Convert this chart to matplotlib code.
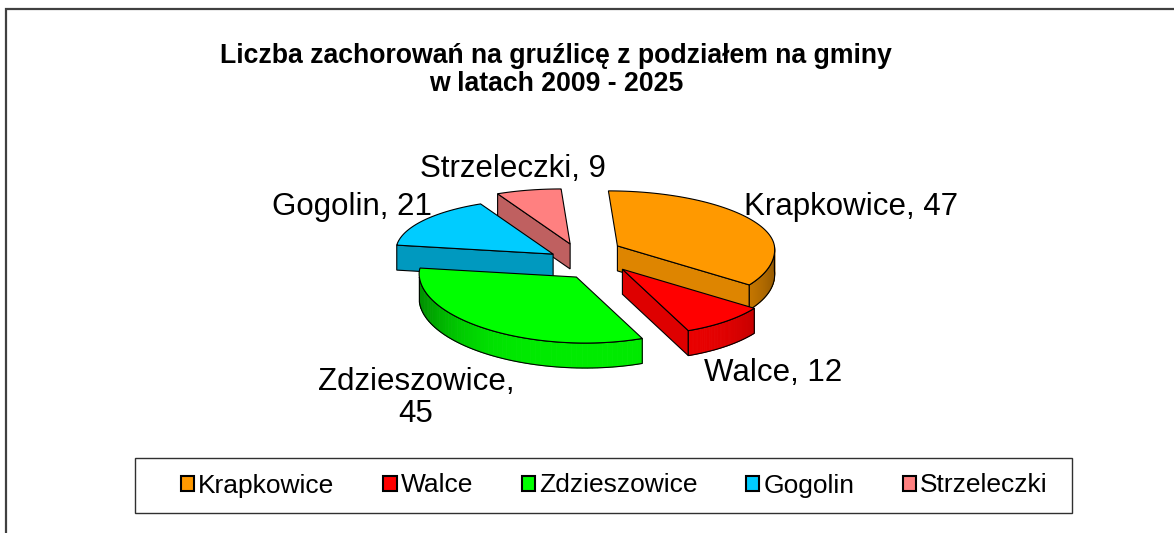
import numpy as np
import matplotlib.pyplot as plt
from matplotlib.patches import Polygon, Rectangle, Patch
from matplotlib.colors import to_rgb

plt.rcParams['font.family'] = ['Liberation Sans', 'DejaVu Sans']

# data
names = ['Krapkowice', 'Walce', 'Zdzieszowice', 'Gogolin', 'Strzeleczki']
cases = [47, 12, 45, 21, 9]
labels = ['Krapkowice, 47', 'Walce, 12', 'Zdzieszowice,\n45', 'Gogolin, 21', 'Strzeleczki, 9']
colors = ['#FF9900', '#FF0000', '#00FF00', '#00CCFF', '#FF8080']
title = 'Liczba zachorowań na gruźlicę z podziałem na gminy\nw latach 2009 - 2025'

# layout (pixel space of the 1174x533 picture)
W, H = 1174, 533
cx, cy = 590, 259.5
ex, kx = 37, 12.4      # explosion, horizontal
ey, ky = 17.3, -6.5    # explosion, vertical
rx, ry_back, ry_front = 157, 55, 66
lean = 9
depth = 25
label_pos = [(851, 215), (773, 381), (416, 398), (352, 215), (513, 177)]


def shade(c, f):
    return tuple(min(1, ch * f) for ch in to_rgb(c))


fig = plt.figure(figsize=(W / 100, H / 100), dpi=100)
ax = fig.add_axes([0, 0, 1, 1])
ax.set_xlim(0, W)
ax.set_ylim(H, 0)
ax.axis('off')

# outer chart frame
ax.add_patch(Rectangle((6, 9), W + 20, H + 20, facecolor='white',
                       edgecolor='#404040', lw=1.6, zorder=0))

vals = np.array(cases, float)
ends = np.cumsum(vals) / vals.sum() * 2 * np.pi
starts = ends - vals / vals.sum() * 2 * np.pi
mids = (starts + ends) / 2

edge_kw = dict(edgecolor='black', lw=0.8)
z = 1
for i in np.argsort(-np.cos(mids)):
    a1, a2, m = starts[i], ends[i], mids[i]
    vx = cx + ex * np.sin(m) - kx * np.cos(m)
    vy = cy - ey * np.cos(m) + ky * np.sin(m)
    col = colors[i]

    def pt(a, zz=0.0):
        du, dv = np.sin(a), np.cos(a)
        x = vx + rx * du - lean * dv
        y = vy - np.where(dv > 0, ry_back, ry_front) * dv + depth * zz
        return np.column_stack([x, y])

    apex = np.array([[vx, vy]])

    # radial side faces
    for a, vis, f in [(a1, np.sin(a1) < -1e-6, 0.75), (a2, np.sin(a2) > 1e-6, 0.87)]:
        if vis:
            e0, e1 = pt([a]), pt([a], 1)
            q = np.vstack([apex, e0, e1, apex + [0, depth]])
            ax.add_patch(Polygon(q, facecolor=shade(col, f), zorder=z, **edge_kw))

    # curved outer side (front part only)
    lo, hi = max(a1, np.pi / 2), min(a2, 3 * np.pi / 2)
    if hi > lo:
        t = np.linspace(lo, hi, 60)
        topc, botc = pt(t), pt(t, 1)
        for k in range(len(t) - 1):
            tm = (t[k] + t[k + 1]) / 2
            c = shade(col, 0.92 * (1 - 0.38 * abs(np.sin(tm)) ** 4))
            q = np.vstack([topc[k:k + 2], botc[k:k + 2][::-1]])
            ax.add_patch(Polygon(q, facecolor=c, edgecolor=c, lw=0.6, zorder=z))
        ax.add_patch(Polygon(np.vstack([topc, botc[::-1]]), fill=False, zorder=z, **edge_kw))

    # top face
    t = np.linspace(a1, a2, 100)
    ax.add_patch(Polygon(np.vstack([apex, pt(t)]), facecolor=col, zorder=z + 0.5, **edge_kw))
    z += 1

for lab, (x, y) in zip(labels, label_pos):
    if '\n' in lab:
        ax.text(x, y, lab, fontsize=22.5, ha='center', va='center',
                linespacing=1.12, zorder=20)
    else:
        ax.text(x, y, lab, fontsize=22.5, ha='center', va='baseline', zorder=20)

ax.text(556, 70, title, fontsize=19.2, fontweight='bold', ha='center', va='center',
        linespacing=1.08)

# legend
ax.add_patch(Rectangle((135, 458), 937, 55, facecolor='white',
                       edgecolor='#303030', lw=1.0, zorder=1))
handles = [Patch(facecolor=c, edgecolor='black', lw=1.5) for c in colors]
ax.legend(handles, names, loc='center', ncol=5, frameon=False,
          bbox_to_anchor=((146 + 937 / 2) / W, 1 - (458 + 27.5) / H),
          fontsize=19, handlelength=0.5, handleheight=0.5,
          handletextpad=0.15, columnspacing=1.85, borderpad=0)

fig.savefig('out.png', dpi=100)
